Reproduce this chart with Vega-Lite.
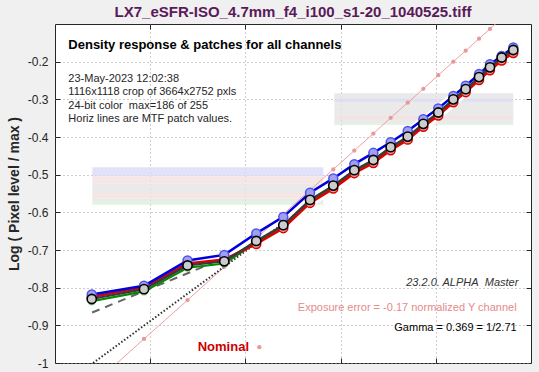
{
  "$schema": "https://vega.github.io/schema/vega-lite/v6.json",
  "width": 476,
  "height": 339,
  "autosize": {"type": "none"},
  "padding": {"left": 55, "top": 24, "right": 8, "bottom": 9},
  "background": "#f0f0f0",
  "view": {"fill": "white", "stroke": "#262626", "strokeWidth": 1},
  "config": {"font": "Liberation Sans"},
  "title": {"text": "LX7_eSFR-ISO_4.7mm_f4_i100_s1-20_1040525.tiff", "fontSize": 15, "fontWeight": "bold", "color": "#5a1a5a", "anchor": "middle", "offset": 4},
  "datasets": {
    "bands": [
      {"x": 0.392, "x2": 2.818, "y": -0.480, "y2": -0.505, "c": "#d9dbf5"},
      {"x": 0.392, "x2": 2.818, "y": -0.505, "y2": -0.523, "c": "#f5e0e0"},
      {"x": 0.392, "x2": 2.818, "y": -0.523, "y2": -0.549, "c": "#e3e5e3"},
      {"x": 0.392, "x2": 2.818, "y": -0.549, "y2": -0.563, "c": "#f3dede"},
      {"x": 0.392, "x2": 2.818, "y": -0.563, "y2": -0.570, "c": "#e3e5e3"},
      {"x": 0.392, "x2": 2.818, "y": -0.570, "y2": -0.580, "c": "#dcefdc"},
      {"x": 2.934, "x2": 4.814, "y": -0.284, "y2": -0.299, "c": "#e4e4e6"},
      {"x": 2.934, "x2": 4.814, "y": -0.299, "y2": -0.307, "c": "#d9daf0"},
      {"x": 2.934, "x2": 4.814, "y": -0.307, "y2": -0.344, "c": "#e5e5e5"},
      {"x": 2.934, "x2": 4.814, "y": -0.344, "y2": -0.352, "c": "#f2dcdc"},
      {"x": 2.934, "x2": 4.814, "y": -0.352, "y2": -0.363, "c": "#e5e5e5"},
      {"x": 2.934, "x2": 4.814, "y": -0.363, "y2": -0.368, "c": "#dcefdc"}
    ],
    "curves": [
      {"x": 0.386, "y": -0.830, "ch": "Y"}, {"x": 0.935, "y": -0.804, "ch": "Y"}, {"x": 1.392, "y": -0.741, "ch": "Y"}, {"x": 1.778, "y": -0.730, "ch": "Y"},
      {"x": 2.114, "y": -0.676, "ch": "Y"}, {"x": 2.398, "y": -0.634, "ch": "Y"}, {"x": 2.679, "y": -0.567, "ch": "Y"}, {"x": 2.923, "y": -0.529, "ch": "Y"},
      {"x": 3.144, "y": -0.488, "ch": "Y"}, {"x": 3.344, "y": -0.461, "ch": "Y"}, {"x": 3.526, "y": -0.427, "ch": "Y"}, {"x": 3.705, "y": -0.399, "ch": "Y"},
      {"x": 3.869, "y": -0.365, "ch": "Y"}, {"x": 4.026, "y": -0.335, "ch": "Y"}, {"x": 4.184, "y": -0.300, "ch": "Y"}, {"x": 4.314, "y": -0.273, "ch": "Y"},
      {"x": 4.454, "y": -0.241, "ch": "Y"}, {"x": 4.569, "y": -0.215, "ch": "Y"}, {"x": 4.692, "y": -0.189, "ch": "Y"}, {"x": 4.814, "y": -0.169, "ch": "Y"},
      {"x": 0.386, "y": -0.818, "ch": "B"}, {"x": 0.935, "y": -0.795, "ch": "B"}, {"x": 1.392, "y": -0.728, "ch": "B"}, {"x": 1.778, "y": -0.713, "ch": "B"},
      {"x": 2.114, "y": -0.656, "ch": "B"}, {"x": 2.398, "y": -0.612, "ch": "B"}, {"x": 2.679, "y": -0.548, "ch": "B"}, {"x": 2.923, "y": -0.510, "ch": "B"},
      {"x": 3.144, "y": -0.472, "ch": "B"}, {"x": 3.344, "y": -0.442, "ch": "B"}, {"x": 3.526, "y": -0.414, "ch": "B"}, {"x": 3.705, "y": -0.384, "ch": "B"},
      {"x": 3.869, "y": -0.353, "ch": "B"}, {"x": 4.026, "y": -0.324, "ch": "B"}, {"x": 4.184, "y": -0.291, "ch": "B"}, {"x": 4.314, "y": -0.264, "ch": "B"},
      {"x": 4.454, "y": -0.233, "ch": "B"}, {"x": 4.569, "y": -0.207, "ch": "B"}, {"x": 4.692, "y": -0.185, "ch": "B"}, {"x": 4.814, "y": -0.162, "ch": "B"},
      {"x": 0.386, "y": -0.825, "ch": "R"}, {"x": 0.935, "y": -0.799, "ch": "R"}, {"x": 1.392, "y": -0.736, "ch": "R"}, {"x": 1.778, "y": -0.725, "ch": "R"},
      {"x": 2.114, "y": -0.684, "ch": "R"}, {"x": 2.398, "y": -0.642, "ch": "R"}, {"x": 2.679, "y": -0.575, "ch": "R"}, {"x": 2.923, "y": -0.537, "ch": "R"},
      {"x": 3.144, "y": -0.496, "ch": "R"}, {"x": 3.344, "y": -0.469, "ch": "R"}, {"x": 3.526, "y": -0.435, "ch": "R"}, {"x": 3.705, "y": -0.407, "ch": "R"},
      {"x": 3.869, "y": -0.373, "ch": "R"}, {"x": 4.026, "y": -0.343, "ch": "R"}, {"x": 4.184, "y": -0.308, "ch": "R"}, {"x": 4.314, "y": -0.281, "ch": "R"},
      {"x": 4.454, "y": -0.249, "ch": "R"}, {"x": 4.569, "y": -0.223, "ch": "R"}, {"x": 4.692, "y": -0.197, "ch": "R"}, {"x": 4.814, "y": -0.177, "ch": "R"},
      {"x": 0.386, "y": -0.836, "ch": "G"}, {"x": 0.935, "y": -0.810, "ch": "G"}, {"x": 1.392, "y": -0.747, "ch": "G"}, {"x": 1.778, "y": -0.736, "ch": "G"},
      {"x": 2.114, "y": -0.680, "ch": "G"}, {"x": 2.398, "y": -0.638, "ch": "G"}, {"x": 2.679, "y": -0.571, "ch": "G"}, {"x": 2.923, "y": -0.533, "ch": "G"},
      {"x": 3.144, "y": -0.492, "ch": "G"}, {"x": 3.344, "y": -0.465, "ch": "G"}, {"x": 3.526, "y": -0.431, "ch": "G"}, {"x": 3.705, "y": -0.403, "ch": "G"},
      {"x": 3.869, "y": -0.369, "ch": "G"}, {"x": 4.026, "y": -0.339, "ch": "G"}, {"x": 4.184, "y": -0.304, "ch": "G"}, {"x": 4.314, "y": -0.277, "ch": "G"},
      {"x": 4.454, "y": -0.245, "ch": "G"}, {"x": 4.569, "y": -0.219, "ch": "G"}, {"x": 4.692, "y": -0.193, "ch": "G"}, {"x": 4.814, "y": -0.173, "ch": "G"}
    ],
    "nominal": [
      {"x": 0.386, "y": -1.061}, {"x": 0.935, "y": -0.936}, {"x": 1.392, "y": -0.833}, {"x": 1.778, "y": -0.745},
      {"x": 2.114, "y": -0.669}, {"x": 2.398, "y": -0.605}, {"x": 2.679, "y": -0.541}, {"x": 2.923, "y": -0.486},
      {"x": 3.144, "y": -0.436}, {"x": 3.344, "y": -0.391}, {"x": 3.526, "y": -0.349}, {"x": 3.705, "y": -0.309},
      {"x": 3.869, "y": -0.272}, {"x": 4.026, "y": -0.236}, {"x": 4.184, "y": -0.200}, {"x": 4.314, "y": -0.171},
      {"x": 4.454, "y": -0.139}, {"x": 4.569, "y": -0.113}, {"x": 4.692, "y": -0.085}, {"x": 4.814, "y": -0.058}
    ],
    "fit": [{"x": 0.40, "y": -1.0}, {"x": 2.40, "y": -0.629}],
    "dash": [{"x": 0.39, "y": -0.866}, {"x": 1.65, "y": -0.735}],
    "notesLeft": [
      {"x": 0.14, "y": -0.247, "t": "23-May-2023 12:02:38"},
      {"x": 0.14, "y": -0.281, "t": "1116x1118 crop of 3664x2752 pxls"},
      {"x": 0.14, "y": -0.318, "t": "24-bit color\u00a0\u00a0max=186 of 255"},
      {"x": 0.14, "y": -0.353, "t": "Horiz lines are MTF patch values."}
    ]
  },
  "resolve": {"axis": {"x": "independent", "y": "independent"}},
  "layer": [
    {
      "data": {"name": "bands"},
      "mark": {"type": "rect", "opacity": 0.8},
      "encoding": {
        "x": {"field": "x", "type": "quantitative", "scale": {"domain": [0, 5], "nice": false, "zero": false},
              "axis": {"orient": "bottom", "values": [1, 2, 3, 4], "labels": false, "title": null, "domain": false, "tickSize": -5, "tickColor": "#262626", "grid": true, "gridDash": [1, 3], "gridColor": "#9a9a9a"}},
        "x2": {"field": "x2"},
        "y": {"field": "y", "type": "quantitative", "scale": {"domain": [-1, -0.1], "nice": false, "zero": false},
              "axis": {"orient": "left", "values": [-1, -0.9, -0.8, -0.7, -0.6, -0.5, -0.4, -0.3, -0.2],
                       "labelExpr": "datum.value <= -0.99 ? '-1' : '-0.' + round(-datum.value * 10)",
                       "labelFontSize": 12, "labelColor": "#262626", "labelPadding": 12,
                       "title": "Log ( Pixel level / max )", "titleFontSize": 14, "titleFontWeight": "bold", "titleColor": "#262626", "titlePadding": 6,
                       "domain": false, "tickSize": -5, "tickColor": "#262626", "grid": true, "gridDash": [1, 3], "gridColor": "#9a9a9a"}},
        "y2": {"field": "y2"},
        "color": {"field": "c", "type": "nominal", "scale": null}
      }
    },
    {
      "data": {"name": "curves"},
      "transform": [{"filter": "datum.ch == 'Y'"}],
      "mark": {"type": "line", "color": "white", "strokeWidth": 13},
      "encoding": {
        "x": {"field": "x", "type": "quantitative", "axis": {"orient": "top", "values": [1, 2, 3, 4], "labels": false, "title": null, "domain": false, "grid": false, "tickSize": -5, "tickColor": "#262626"}},
        "y": {"field": "y", "type": "quantitative", "axis": {"orient": "right", "values": [-0.9, -0.8, -0.7, -0.6, -0.5, -0.4, -0.3, -0.2], "labels": false, "title": null, "domain": false, "grid": false, "tickSize": -5, "tickColor": "#262626"}}
      }
    },
    {
      "data": {"name": "nominal"},
      "mark": {"type": "line", "color": "#f0a0a0", "strokeWidth": 1, "clip": true, "point": {"filled": true, "color": "#e89898", "size": 18}},
      "encoding": {
        "x": {"field": "x", "type": "quantitative", "axis": null},
        "y": {"field": "y", "type": "quantitative", "axis": null}
      }
    },
    {
      "data": {"name": "fit"},
      "mark": {"type": "line", "color": "#333333", "strokeWidth": 2, "strokeDash": [1.5, 2]},
      "encoding": {
        "x": {"field": "x", "type": "quantitative", "axis": null},
        "y": {"field": "y", "type": "quantitative", "axis": null}
      }
    },
    {
      "data": {"name": "dash"},
      "mark": {"type": "line", "color": "#666666", "strokeWidth": 2, "strokeDash": [8, 6]},
      "encoding": {
        "x": {"field": "x", "type": "quantitative", "axis": null},
        "y": {"field": "y", "type": "quantitative", "axis": null}
      }
    },
    {
      "data": {"name": "curves"},
      "transform": [{"filter": "datum.ch == 'G'"}],
      "mark": {"type": "line", "color": "#008a00", "strokeWidth": 2.2, "point": {"filled": true, "color": "#9ad09a", "size": 70}},
      "encoding": {
        "x": {"field": "x", "type": "quantitative", "axis": null},
        "y": {"field": "y", "type": "quantitative", "axis": null}
      }
    },
    {
      "data": {"name": "curves"},
      "transform": [{"filter": "datum.ch == 'R'"}],
      "mark": {"type": "line", "color": "#dd0000", "strokeWidth": 2.5},
      "encoding": {
        "x": {"field": "x", "type": "quantitative", "axis": null},
        "y": {"field": "y", "type": "quantitative", "axis": null}
      }
    },
    {
      "data": {"name": "curves"},
      "transform": [{"filter": "datum.ch == 'R'"}],
      "mark": {"type": "point", "filled": true, "fill": "#ee9a9a", "stroke": "#dd0000", "strokeWidth": 1.5, "size": 80, "opacity": 1},
      "encoding": {
        "x": {"field": "x", "type": "quantitative", "axis": null},
        "y": {"field": "y", "type": "quantitative", "axis": null}
      }
    },
    {
      "data": {"name": "curves"},
      "transform": [{"filter": "datum.ch == 'B'"}],
      "mark": {"type": "line", "color": "#0000dd", "strokeWidth": 2.5},
      "encoding": {
        "x": {"field": "x", "type": "quantitative", "axis": null},
        "y": {"field": "y", "type": "quantitative", "axis": null}
      }
    },
    {
      "data": {"name": "curves"},
      "transform": [{"filter": "datum.ch == 'B'"}],
      "mark": {"type": "point", "filled": true, "fill": "#a0a0f0", "stroke": "#5050ee", "strokeWidth": 1.5, "size": 80, "opacity": 1},
      "encoding": {
        "x": {"field": "x", "type": "quantitative", "axis": null},
        "y": {"field": "y", "type": "quantitative", "axis": null}
      }
    },
    {
      "data": {"name": "curves"},
      "transform": [{"filter": "datum.ch == 'Y'"}],
      "mark": {"type": "line", "color": "#3a3a3a", "strokeWidth": 2.2},
      "encoding": {
        "x": {"field": "x", "type": "quantitative", "axis": null},
        "y": {"field": "y", "type": "quantitative", "axis": null}
      }
    },
    {
      "data": {"name": "curves"},
      "transform": [{"filter": "datum.ch == 'Y'"}],
      "mark": {"type": "point", "filled": true, "fill": "#cccccc", "stroke": "#000000", "strokeWidth": 1.6, "size": 85, "opacity": 1},
      "encoding": {
        "x": {"field": "x", "type": "quantitative", "axis": null},
        "y": {"field": "y", "type": "quantitative", "axis": null}
      }
    },
    {
      "data": {"values": [{"x": 0.14, "y": -0.156, "t": "Density response & patches for all channels"}]},
      "mark": {"type": "text", "align": "left", "baseline": "middle", "fontSize": 13, "fontWeight": "bold", "color": "#000000"},
      "encoding": {
        "x": {"field": "x", "type": "quantitative", "axis": null},
        "y": {"field": "y", "type": "quantitative", "axis": null},
        "text": {"field": "t"}
      }
    },
    {
      "data": {"name": "notesLeft"},
      "mark": {"type": "text", "align": "left", "baseline": "middle", "fontSize": 11, "color": "#262626"},
      "encoding": {
        "x": {"field": "x", "type": "quantitative", "axis": null},
        "y": {"field": "y", "type": "quantitative", "axis": null},
        "text": {"field": "t"}
      }
    },
    {
      "data": {"values": [{"x": 4.867, "y": -0.788, "t": "23.2.0. ALPHA\u00a0\u00a0Master"}]},
      "mark": {"type": "text", "align": "right", "baseline": "middle", "fontSize": 11, "fontStyle": "italic", "color": "#333333"},
      "encoding": {
        "x": {"field": "x", "type": "quantitative", "axis": null},
        "y": {"field": "y", "type": "quantitative", "axis": null},
        "text": {"field": "t"}
      }
    },
    {
      "data": {"values": [{"x": 4.849, "y": -0.855, "t": "Exposure error = -0.17 normalized Y channel"}]},
      "mark": {"type": "text", "align": "right", "baseline": "middle", "fontSize": 11, "color": "#e58a8a"},
      "encoding": {
        "x": {"field": "x", "type": "quantitative", "axis": null},
        "y": {"field": "y", "type": "quantitative", "axis": null},
        "text": {"field": "t"}
      }
    },
    {
      "data": {"values": [{"x": 4.849, "y": -0.908, "t": "Gamma = 0.369 = 1/2.71"}]},
      "mark": {"type": "text", "align": "right", "baseline": "middle", "fontSize": 11, "color": "#000000"},
      "encoding": {
        "x": {"field": "x", "type": "quantitative", "axis": null},
        "y": {"field": "y", "type": "quantitative", "axis": null},
        "text": {"field": "t"}
      }
    },
    {
      "data": {"values": [{"x": 1.499, "y": -0.958, "t": "Nominal"}]},
      "mark": {"type": "text", "align": "left", "baseline": "middle", "fontSize": 13, "fontWeight": "bold", "color": "#cc0000"},
      "encoding": {
        "x": {"field": "x", "type": "quantitative", "axis": null},
        "y": {"field": "y", "type": "quantitative", "axis": null},
        "text": {"field": "t"}
      }
    },
    {
      "data": {"values": [{"x": 2.146, "y": -0.958}]},
      "mark": {"type": "point", "filled": true, "color": "#e89898", "size": 18, "opacity": 1},
      "encoding": {
        "x": {"field": "x", "type": "quantitative", "axis": null},
        "y": {"field": "y", "type": "quantitative", "axis": null}
      }
    }
  ]
}
